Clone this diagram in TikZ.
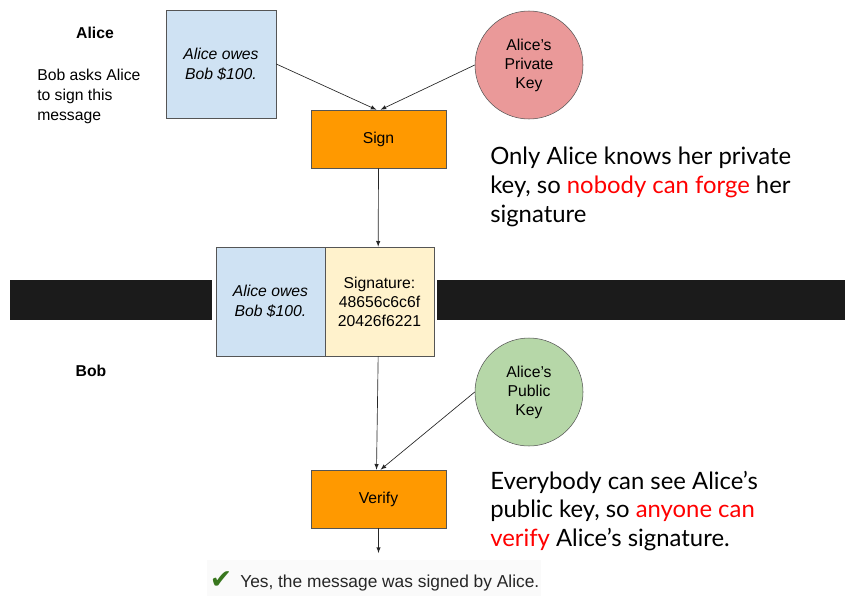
\documentclass[tikz,border=0pt]{standalone}
\usepackage{fontspec}
\setmainfont{Liberation Sans}
\newfontfamily\latofont{Lato}
\newfontfamily\checkfont{DejaVu Sans}
\usepackage{xcolor}
\usetikzlibrary{positioning,arrows,shapes}
\definecolor{msgblue}{HTML}{CFE2F3}
\definecolor{sigyellow}{HTML}{FFF2CC}
\definecolor{boxorange}{HTML}{FF9900}
\definecolor{privred}{HTML}{EA9999}
\definecolor{pubgreen}{HTML}{B6D7A8}
\definecolor{checkgreen}{HTML}{38761D}
\definecolor{barblack}{HTML}{1B1B1B}
\definecolor{edgegray}{HTML}{555555}

\begin{document}
\begin{tikzpicture}[x=0.75pt,y=-0.75pt,
  txt/.style={font=\fontsize{11.8}{15}\selectfont,align=center,inner sep=0pt},
  msg/.style={txt,draw=edgegray,fill=msgblue,minimum width=82.5pt,minimum height=81pt,font=\fontsize{11.8}{15}\selectfont\itshape},
  op/.style={txt,draw=edgegray,fill=boxorange,minimum width=101.25pt,minimum height=43.5pt},
  key/.style={txt,circle,draw=edgegray,minimum size=81pt,font=\fontsize{11.8}{14.25}\selectfont},
  big/.style={font=\latofont\fontsize{17.9}{21.5}\selectfont,align=left,inner sep=0pt},
  arr/.style={-latex,draw=black!85,line width=0.5pt}]
  \useasboundingbox (0,0) rectangle (845,596);

  % the line between Alice and Bob
  \fill[barblack] (10,280) rectangle (212,320);
  \fill[barblack] (437,280) rectangle (845,320);

  % Alice's side
  \node[txt,font=\fontsize{11.8}{15}\selectfont\bfseries] (alice) at (95,33) {Alice};
  \node[txt,align=left,anchor=north west] (ask) at (37,69) {Bob asks Alice\\to sign this\\message};
  \node[msg] (msg1) at (221,64) {Alice owes\\Bob \$100.};
  \node[key,fill=privred] (priv) at (529,65) {Alice’s\\Private\\Key};
  \node[op] (sign) at (378.5,139) {Sign};

  \node[big,anchor=west] (note1) at (490,187) {Only Alice knows her private\\key, so \textcolor{red}{nobody can forge} her\\signature};

  % signed message
  \node[msg,minimum width=81.75pt,minimum height=81.75pt] (msg2) at (270.5,301.5) {Alice owes\\Bob \$100.};
  \node[txt,draw=edgegray,fill=sigyellow,minimum width=81.75pt,minimum height=81.75pt,font=\fontsize{11.8}{14.25}\selectfont] (sig) at (379.5,301.5) {Signature:\\48656c6c6f\\20426f6221};

  % Bob's side
  \node[txt,font=\fontsize{11.8}{15}\selectfont\bfseries] (bob) at (91,371) {Bob};
  \node[key,fill=pubgreen] (pub) at (529,392) {Alice’s\\Public\\Key};
  \node[op] (verify) at (378.5,499) {Verify};
  \coordinate (out) at (378.5,553);

  \node[big,anchor=west] (note2) at (490,511) {Everybody can see Alice’s\\public key, so \textcolor{red}{anyone can}\\\textcolor{red}{verify} Alice’s signature.};

  \fill[black!2] (207,560) rectangle (541,596);
  \node[inner sep=0pt,text=checkgreen,font=\checkfont\fontsize{20}{20}\selectfont] (check) at (221,580) {✔};
  \node[inner sep=0pt,anchor=west,font=\fontsize{13}{15}\selectfont,text=black!85] (result) at (240,583) {Yes, the message was signed by Alice.};

  \draw[arr] (msg1.east) -- ([xshift=-1.5pt]sign.north);
  \draw[arr] (priv.west) -- ([xshift=1.5pt]sign.north);
  \draw[arr] (sign.south) -- ([xshift=-1pt]sig.north);
  \draw[arr] ([xshift=-1pt]sig.south) -- ([xshift=-1.5pt]verify.north);
  \draw[arr] (pub.west) -- ([xshift=1.5pt]verify.north);
  \draw[arr] (verify.south) -- (out);
\end{tikzpicture}
\end{document}
